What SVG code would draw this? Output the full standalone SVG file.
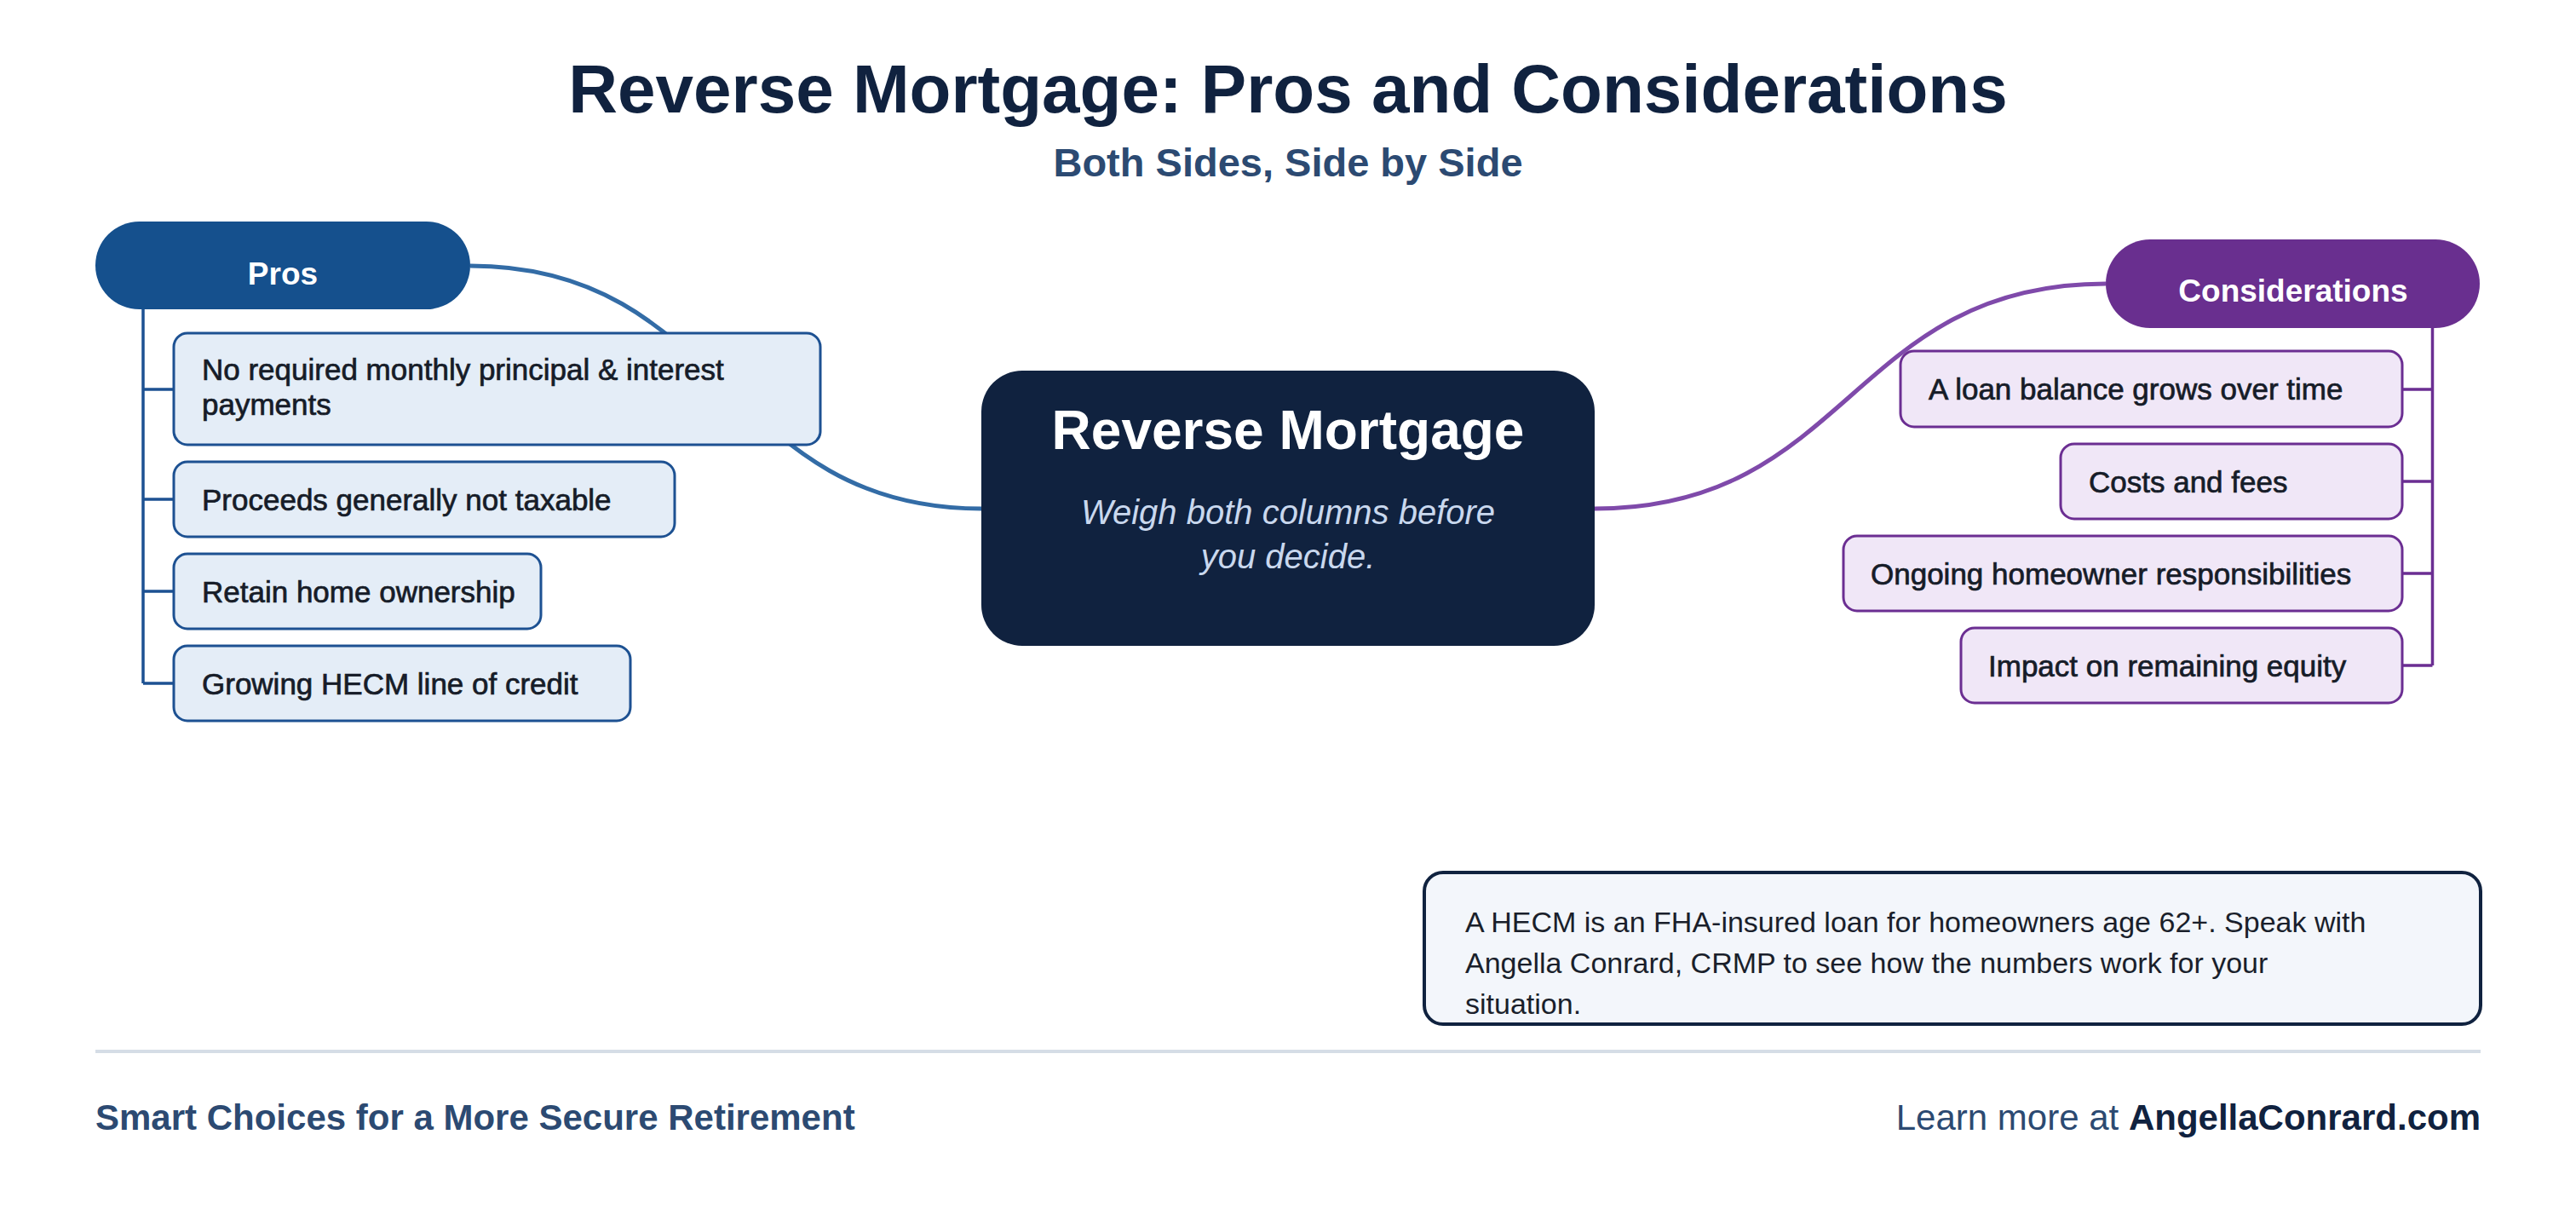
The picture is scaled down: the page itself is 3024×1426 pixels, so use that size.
<svg xmlns="http://www.w3.org/2000/svg" width="3024" height="1426" viewBox="0 0 3024 1426">
<style>
  text { font-family: "Liberation Sans", Arial, Helvetica, sans-serif; }
  .title { font-size: 80px; font-weight: bold; fill: #10223f; }
  .subtitle { font-size: 47px; font-weight: bold; fill: #2c4a72; }
  .pill-text { font-size: 37px; font-weight: bold; fill: #ffffff; }
  .item-text { font-size: 35px; fill: #161c28; stroke: #161c28; stroke-width: 0.7px; }
  .pro-box { fill: #e4edf7; stroke: #1d5192; stroke-width: 3; }
  .con-box { fill: #f0e7f7; stroke: #6b2e92; stroke-width: 3; }
  .pro-tree { fill: none; stroke: #1d5192; stroke-width: 3.5; }
  .con-tree { fill: none; stroke: #6b2e92; stroke-width: 3.5; }
  .note-text { font-size: 34px; fill: #1a1f2b; }
  .footer-left { font-size: 42px; font-weight: bold; fill: #2c4a72; }
  .footer-right { font-size: 42px; fill: #2c4a72; }
</style>
<rect x="0" y="0" width="3024" height="1426" fill="#ffffff"/>

<g id="header">
  <text class="title" x="1512" y="132" text-anchor="middle">Reverse Mortgage: Pros and Considerations</text>
  <text class="subtitle" x="1512" y="207" text-anchor="middle">Both Sides, Side by Side</text>
</g>

<g id="connectors">
  <path d="M552,312 C852,312 852,597 1152,597" fill="none" stroke="#336ca6" stroke-width="5"/>
  <path d="M1872,597 C2172,597 2172,333 2472,333" fill="none" stroke="#7f4aaa" stroke-width="5"/>
  <path class="pro-tree" d="M168,363 V802 M168,457 H204 M168,586 H204 M168,694 H204 M168,802 H204"/>
  <path class="con-tree" d="M2855.5,385 V781 M2855.5,457 H2820 M2855.5,565 H2820 M2855.5,673 H2820 M2855.5,781 H2820"/>
</g>

<g id="center">
  <rect x="1152" y="435" width="720" height="323" rx="48" fill="#10223f"/>
  <text x="1512" y="527" text-anchor="middle" font-size="64" font-weight="bold" fill="#ffffff">Reverse Mortgage</text>
  <text x="1512" y="615" text-anchor="middle" font-size="40" font-style="italic" fill="#c9d8ee">Weigh both columns before</text>
  <text x="1512" y="667" text-anchor="middle" font-size="40" font-style="italic" fill="#c9d8ee">you decide.</text>
</g>

<g id="pros">
  <rect x="112" y="260" width="440" height="103" rx="51.5" fill="#15508d"/>
  <text class="pill-text" x="332" y="334" text-anchor="middle">Pros</text>
</g>

<g id="pro-1">
  <rect class="pro-box" x="204" y="391" width="759" height="131" rx="16"/>
  <text class="item-text" x="237" y="446">No required monthly principal &amp; interest</text>
  <text class="item-text" x="237" y="487">payments</text>
</g>
<g id="pro-2">
  <rect class="pro-box" x="204" y="542" width="588" height="88" rx="16"/>
  <text class="item-text" x="237" y="598.5">Proceeds generally not taxable</text>
</g>
<g id="pro-3">
  <rect class="pro-box" x="204" y="650" width="431" height="88" rx="16"/>
  <text class="item-text" x="237" y="706.5">Retain home ownership</text>
</g>
<g id="pro-4">
  <rect class="pro-box" x="204" y="758" width="536" height="88" rx="16"/>
  <text class="item-text" x="237" y="814.5">Growing HECM line of credit</text>
</g>

<g id="considerations">
  <rect x="2472" y="281" width="439" height="104" rx="52" fill="#692f8f"/>
  <text class="pill-text" x="2692" y="354" text-anchor="middle">Considerations</text>
</g>

<g id="con-1">
  <rect class="con-box" x="2231" y="412" width="589" height="89" rx="16"/>
  <text class="item-text" x="2264" y="469">A loan balance grows over time</text>
</g>
<g id="con-2">
  <rect class="con-box" x="2419" y="521" width="401" height="88" rx="16"/>
  <text class="item-text" x="2452" y="577.5">Costs and fees</text>
</g>
<g id="con-3">
  <rect class="con-box" x="2164" y="629" width="656" height="88" rx="16"/>
  <text class="item-text" x="2196" y="685.5">Ongoing homeowner responsibilities</text>
</g>
<g id="con-4">
  <rect class="con-box" x="2302" y="737" width="518" height="88" rx="16"/>
  <text class="item-text" x="2334" y="793.5">Impact on remaining equity</text>
</g>

<g id="note">
  <rect x="1672" y="1024" width="1240" height="178" rx="22" fill="#f3f6fb" stroke="#10223f" stroke-width="4"/>
  <text class="note-text" x="1720" y="1094">A HECM is an FHA-insured loan for homeowners age 62+. Speak with</text>
  <text class="note-text" x="1720" y="1142">Angella Conrard, CRMP to see how the numbers work for your</text>
  <text class="note-text" x="1720" y="1190">situation.</text>
</g>

<g id="footer">
  <line x1="112" y1="1234" x2="2912" y2="1234" stroke="#d5dde6" stroke-width="4"/>
  <text class="footer-left" x="112" y="1326">Smart Choices for a More Secure Retirement</text>
  <text class="footer-right" x="2912" y="1326" text-anchor="end">Learn more at <tspan font-weight="bold" fill="#10223f">AngellaConrard.com</tspan></text>
</g>
</svg>
